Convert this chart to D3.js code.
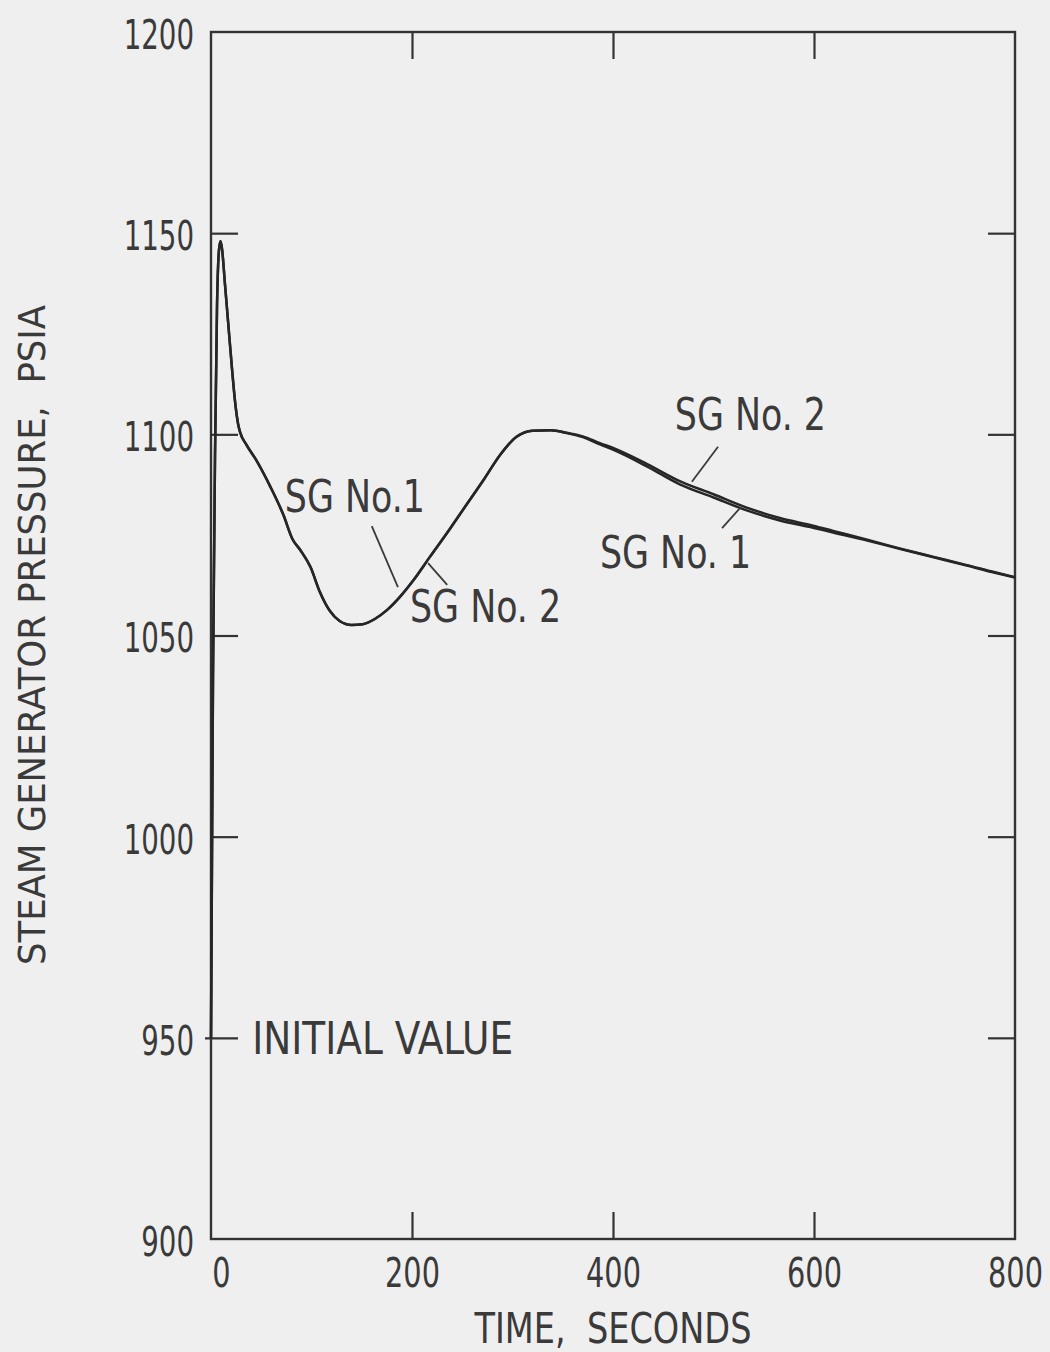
<!DOCTYPE html>
<html>
<head>
<meta charset="utf-8">
<script src="https://cdn.jsdelivr.net/npm/d3@7"></script>
<style>
  html, body { margin: 0; padding: 0; background: #efefef; }
  svg { display: block; }
  text { font-family: "Liberation Sans Narrow", "DejaVu Sans Condensed", "Roboto", sans-serif; fill: #3a3a3a; }
</style>
</head>
<body>
<svg id="chart" width="1050" height="1352"></svg>
<script>
// Steam generator pressure transient, two steam generators
const sg1Time = [0, 2, 4, 6, 8, 9.5, 11, 14, 17, 21, 24, 27, 29, 35, 44, 59, 72, 81, 89, 99, 108, 118, 128, 140, 151, 163, 175, 188, 201, 218, 238, 255, 271, 288, 304, 320, 338, 354, 370, 387, 400, 434, 467, 500, 533, 566, 599, 619, 653, 686, 718, 752, 780, 800];
const sg1Pressure = [950, 1040, 1095, 1132, 1146, 1148, 1146, 1137, 1128, 1116, 1108, 1102.5, 1100.5, 1097.5, 1094, 1087, 1080, 1074, 1071.2, 1067, 1061, 1056.2, 1053.6, 1052.6, 1052.8, 1054.1, 1056.3, 1059.6, 1063.6, 1069.6, 1076.6, 1082.8, 1088.6, 1095, 1099.4, 1100.9, 1101, 1100.3, 1099.3, 1097.5, 1096.2, 1092, 1087.5, 1084.3, 1081.1, 1078.6, 1076.8, 1075.6, 1073.6, 1071.5, 1069.5, 1067.4, 1065.6, 1064.4];

const sg2Time = [0, 2, 4, 6, 8, 9.5, 11, 14, 17, 21, 24, 27, 29, 35, 44, 59, 72, 81, 89, 99, 108, 118, 128, 140, 151, 163, 175, 188, 201, 218, 238, 255, 271, 288, 304, 320, 338, 354, 370, 387, 400, 434, 467, 500, 533, 566, 599, 619, 653, 686, 718, 752, 780, 800];
const sg2Pressure = [950, 1040, 1095, 1132, 1146, 1148, 1146, 1137, 1128, 1116, 1108, 1102.5, 1100.5, 1097.5, 1094, 1087, 1080, 1074, 1071.2, 1067, 1061, 1056.2, 1053.6, 1052.6, 1052.8, 1054.1, 1056.3, 1059.6, 1063.6, 1069.6, 1076.6, 1082.8, 1088.6, 1095, 1099.4, 1100.9, 1101, 1100.4, 1099.5, 1097.8, 1096.6, 1092.6, 1088.3, 1085.1, 1081.8, 1079.2, 1077.3, 1076.0, 1073.8, 1071.6, 1069.6, 1067.5, 1065.7, 1064.5];

const xTicks = [0, 200, 400, 600, 800];
const yTicks = [900, 950, 1000, 1050, 1100, 1150, 1200];
const innerXTicks = [200, 400, 600];
const innerYTicks = [950, 1000, 1050, 1100, 1150];

// Curve labels: text anchor point and leader line, in data units
const labelText = ["SG No.1", "SG No. 2", "SG No. 2", "SG No. 1"];
const labelAt = [[73.5, 1080.7], [198, 1053.4], [461.5, 1101.1], [387, 1066.8]];
const leaderFrom = [[160, 1077.2], [216, 1068], [504.5, 1096.9], [526.5, 1081.7]];
const leaderTo = [[186, 1062], [235, 1062.6], [478.5, 1088.2], [508.5, 1076.7]];

const initialLabel = "INITIAL VALUE";
const initialValue = 950;

const xTitle = "TIME,  SECONDS";
const yTitle = "STEAM GENERATOR PRESSURE,  PSIA";

const svg = d3.select("#chart");
const plotLeft = 211, plotRight = 1015, plotTop = 32, plotBottom = 1239;

const x = d3.scaleLinear().domain([0, 800]).range([plotLeft, plotRight]);
const y = d3.scaleLinear().domain([900, 1200]).range([plotBottom, plotTop]);

const ink = "#333";
const tickLen = 27;

// Narrow a text element horizontally to mimic a condensed typeface
function condense(sel, factor) {
  sel.each(function () {
    const w = this.getComputedTextLength();
    d3.select(this)
      .attr("textLength", w * factor)
      .attr("lengthAdjust", "spacingAndGlyphs");
  });
}
function fitWidth(sel, width) {
  sel.attr("textLength", width).attr("lengthAdjust", "spacingAndGlyphs");
}

// Frame
svg.append("rect")
  .attr("x", plotLeft).attr("y", plotTop)
  .attr("width", plotRight - plotLeft).attr("height", plotBottom - plotTop)
  .attr("fill", "none").attr("stroke", ink).attr("stroke-width", 2.4);

// Left axis with labels, ticks pointing inward
const yScaleX = 0.75;
const gLeft = svg.append("g").attr("transform", `translate(${plotLeft},0)`)
  .call(d3.axisLeft(y).tickValues(yTicks).tickSize(-tickLen).tickFormat(d3.format("d")));
gLeft.select(".domain").remove();
gLeft.selectAll(".tick line")
  .attr("stroke", ink).attr("stroke-width", 2.2)
  .attr("display", d => innerYTicks.includes(d) ? null : "none")
  .attr("x1", d => d === initialValue ? -6 : 0);
gLeft.selectAll(".tick text")
  .attr("font-size", 41).attr("dy", "0.4em")
  .attr("font-family", null)
  .attr("x", -17 / yScaleX)
  .attr("transform", `scale(${yScaleX},1)`);

// Right axis: inward ticks only
const gRight = svg.append("g").attr("transform", `translate(${plotRight},0)`)
  .call(d3.axisRight(y).tickValues(innerYTicks).tickSize(-tickLen).tickFormat(""));
gRight.select(".domain").remove();
gRight.selectAll(".tick line").attr("stroke", ink).attr("stroke-width", 2.2);

// Bottom axis with labels
const gBottom = svg.append("g").attr("transform", `translate(0,${plotBottom})`)
  .call(d3.axisBottom(x).tickValues(xTicks).tickSize(-tickLen).tickPadding(18).tickFormat(d3.format("d")));
gBottom.select(".domain").remove();
gBottom.selectAll(".tick line")
  .attr("stroke", ink).attr("stroke-width", 2.2)
  .attr("display", d => innerXTicks.includes(d) ? null : "none");
gBottom.selectAll(".tick text")
  .attr("font-size", 41).attr("dy", "0.74em")
  .attr("x", d => d === 0 ? 10 / 0.78 : 0)
  .attr("font-family", null)
  .attr("transform", "scale(0.78,1)");

// Top axis: inward ticks only
const gTop = svg.append("g").attr("transform", `translate(0,${plotTop})`)
  .call(d3.axisTop(x).tickValues(innerXTicks).tickSize(-tickLen).tickFormat(""));
gTop.select(".domain").remove();
gTop.selectAll(".tick line").attr("stroke", ink).attr("stroke-width", 2.2);

// Axis titles
svg.append("text")
  .attr("x", 613).attr("y", 1343)
  .attr("text-anchor", "middle").attr("font-size", 43)
  .style("white-space", "pre")
  .text(xTitle)
  .call(fitWidth, 277);

svg.append("text")
  .attr("transform", `translate(45,${635}) rotate(-90)`)
  .attr("text-anchor", "middle").attr("font-size", 38)
  .style("white-space", "pre")
  .text(yTitle)
  .call(fitWidth, 660);

// Pressure curves
const line = d3.line().x(d => x(d[0])).y(d => y(d[1])).curve(d3.curveMonotoneX);
const sg1 = sg1Time.map((t, i) => [t, sg1Pressure[i]]);
const sg2 = sg2Time.map((t, i) => [t, sg2Pressure[i]]);

[sg1, sg2].forEach(series => {
  svg.append("path")
    .datum(series)
    .attr("fill", "none")
    .attr("stroke", "#262626")
    .attr("stroke-width", 2.5)
    .attr("stroke-linejoin", "round")
    .attr("d", line);
});

// Curve labels and leader lines
labelText.forEach((txt, i) => {
  svg.append("text")
    .attr("x", x(labelAt[i][0])).attr("y", y(labelAt[i][1]))
    .attr("font-size", 44)
    .text(txt)
    .call(condense, 0.88);
  svg.append("line")
    .attr("x1", x(leaderFrom[i][0])).attr("y1", y(leaderFrom[i][1]))
    .attr("x2", x(leaderTo[i][0])).attr("y2", y(leaderTo[i][1]))
    .attr("stroke", "#3a3a3a").attr("stroke-width", 1.8);
});

// Initial value note
svg.append("text")
  .attr("x", x(41)).attr("y", y(initialValue))
  .attr("dy", "0.36em")
  .attr("font-size", 44)
  .text(initialLabel)
  .call(fitWidth, 261);
</script>
</body>
</html>
